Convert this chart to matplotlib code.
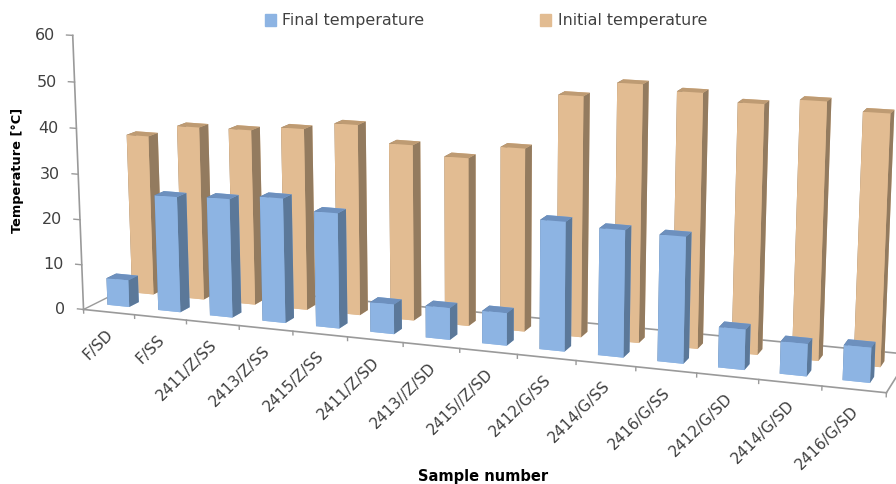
import matplotlib
matplotlib.use('Agg')
import matplotlib.pyplot as plt
from matplotlib.patches import Patch
from mpl_toolkits.mplot3d import proj3d

samples = ['F/SD', 'F/SS', '2411/Z/SS', '2413/Z/SS', '2415/Z/SS', '2411/Z/SD', '2413//Z/SD',
           '2415//Z/SD', '2412/G/SS', '2414/G/SS', '2416/G/SS', '2412/G/SD', '2414/G/SD', '2416/G/SD']
final_temp = [6, 25.5, 26, 27.1, 24.9, 6.4, 6.8, 6.9, 27.1, 26.4, 26.1, 8.3, 6.6, 7.1]
initial_temp = [35.8, 38.6, 38.8, 39.9, 41.6, 38.1, 36.2, 39.1, 50.8, 54, 53, 51.5, 52.8, 51.2]
z_ticks = [0, 10, 20, 30, 40, 50, 60]

GREY = '#9a9a9a'
TXT = '#404040'
# front, top and side colour of the bars
BLUE = ('#8DB4E3', '#6D90BE', '#5B7899')
TAN = ('#E2BC92', '#BE9B73', '#937B5F')

fig = plt.figure(figsize=(8.96, 4.84), dpi=100)
W = 1000.0
cx, cy = 469, 205
ax = fig.add_axes([(cx - W / 2) / 896, (484 - cy - W / 2) / 484, W / 896, W / 484],
                  projection='3d', computed_zorder=False)
ax.set_axis_off()
ax.view_init(elev=12.5, azim=-70)
ax.set_proj_type('persp', focal_length=0.42)
ax.set_box_aspect((866, 135, 298), zoom=0.875)
ax.set_xlim(0, 14)
ax.set_ylim(0, 1)
ax.set_zlim(0, 60)


def draw_bar(i, y0, h, cols, order):
    # bar3d faces: bottom, top, front, back, left, right
    c = [cols[0], cols[1], cols[0], cols[0], cols[2], cols[2]]
    bar = ax.bar3d(i + 0.24, y0, 0, 0.43, 0.16, h, color=c, shade=False, linewidth=0)
    bar.set_zorder(order)


def label(x, y, z, s, dx, dy, **kw):
    # Text3D ignores rotation, so project the anchor and put a normal 2d annotation there
    x2, y2, _ = proj3d.proj_transform(x, y, z, ax.get_proj())
    ax.annotate(s, xy=(x2, y2), xycoords='data', xytext=(dx, dy), textcoords='offset pixels',
                color=TXT, zorder=200, **kw)


# floor, back line first so the bars hide it
ax.plot([0, 14], [1, 1], [0, 0], color=GREY, lw=1.2, zorder=1)
ax.plot([14, 14], [0, 1], [0, 0], color=GREY, lw=1.2, zorder=1)
ax.plot([0, 0], [0, 1], [0, 0], color=GREY, lw=1.0, zorder=1)
ax.plot([0, 14], [0, 0], [0, 0], color=GREY, lw=1.2, zorder=1)

for i, v in enumerate(initial_temp):
    draw_bar(i, 0.60, v, TAN, 10 + i)
for i, v in enumerate(final_temp):
    draw_bar(i, 0.19, v, BLUE, 50 + i)

# axes and ticks
ax.plot([0, 0], [0, 0], [0, 60], color=GREY, lw=1.2, zorder=2)
for v in z_ticks:
    ax.plot([-0.12, 0], [0, 0], [v, v], color=GREY, lw=1.0, zorder=2)
    label(0, 0, v, str(v), -18, 0, ha='right', va='center', fontsize=11.5)
for i in range(15):
    ax.plot([i, i], [0, 0], [0, -0.8], color=GREY, lw=1.0, zorder=2)
for i, s in enumerate(samples):
    label(i + 0.5, 0, 0, s, 2, -20, rotation=45, rotation_mode='anchor', ha='right', va='center',
          fontsize=11)

fig.text(18 / 896, 1 - 170 / 484, 'Temperature [°C]', rotation=90, ha='center', va='center',
         fontsize=9.3, fontweight='bold', color='black')
fig.text(483 / 896, 1 - 476 / 484, 'Sample number', ha='center', va='center',
         fontsize=10.5, fontweight='bold', color='black')
handles = [Patch(color=BLUE[0], label='Final temperature'), Patch(color=TAN[0], label='Initial temperature')]
fig.legend(handles=handles, ncols=2, loc='center', bbox_to_anchor=(486 / 896, 1 - 21 / 484), frameon=False,
           fontsize=11.4, labelcolor=TXT, handlelength=0.7, handleheight=0.7, handletextpad=0.4, columnspacing=7.3)

fig.savefig('out.png', dpi=100)
